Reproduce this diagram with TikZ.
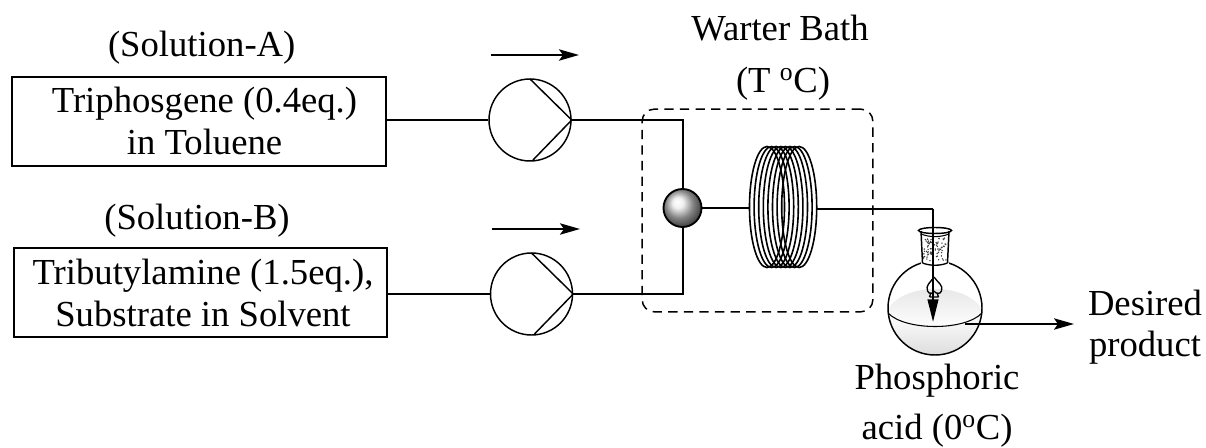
\documentclass[tikz,border=0pt]{standalone}
\usepackage{fontspec}
\setmainfont{Liberation Serif}
\usetikzlibrary{arrows.meta,calc,shapes.geometric}
\pgfdeclareradialshading{mixball}{\pgfpoint{-7bp}{8bp}}{color(0bp)=(white); color(7bp)=(black!6); color(18bp)=(black!48); color(28bp)=(black!74); color(42bp)=(black); color(50bp)=(black)}
\tikzset{
  line/.style={line width=1.5pt,black},
  tip/.style={line width=1.5pt,-{Stealth[length=15pt,width=8.5pt,inset=3pt]}},
  feedbox/.style={draw,line width=1.1pt,inner sep=0pt},
  lab/.style={inner sep=0pt,align=center,anchor=base,font=\fontsize{27.5pt}{31.5pt}\selectfont},
  pumpc/.style={circle,draw,line width=1.1pt,minimum size=61.5pt,inner sep=0pt},
  loop/.style={line width=1.2pt},
}
\begin{document}
\begin{tikzpicture}[x=0.75pt,y=-0.75pt]
\useasboundingbox (0,0) rectangle (1206,448);
% boxes
\node[feedbox,minimum width=280.5pt,minimum height=66.75pt] (boxa) at (199,121.5) {};
\node[feedbox,minimum width=279.75pt,minimum height=66.75pt] (boxb) at (200.5,292.5) {};
\node[lab] (ta) at (204.5,155) {Triphosgene (0.4eq.)\\in Toluene};
\node[lab] (tb) at (203,327) {Tributylamine (1.5eq.),\\Substrate in Solvent};
\node[lab] (sa) at (201.7,57) {(Solution-A)};
\node[lab] (sb) at (197,230) {(Solution-B)};
% pumps
\node[pumpc] (p1) at (530,120) {};
\node[pumpc] (p2) at (531.5,294) {};
\draw[line width=1.1pt] (p1.east) -- ($(p1.center)+(0,-41)$) (p1.east) -- ($(p1.center)+(3,40)$);
\draw[line width=1.1pt] (p2.east) -- ($(p2.center)+(0,-41)$) (p2.east) -- ($(p2.center)+(3,40)$);
% flow arrows
\coordinate (f1s) at (491,55); \coordinate (f1e) at (579,55);
\coordinate (f2s) at (492,229); \coordinate (f2e) at (580,229);
\draw[tip] (f1s) -- (f1e);
\draw[tip] (f2s) -- (f2e);
% bath
\node[lab] (wb) at (780,41) {Warter Bath};
\node[lab] (tc) at (783,93) {(T \textsuperscript{o}C)};
\node[draw,line width=1.1pt,dash pattern=on 7pt off 4.7pt,rounded corners=9pt,minimum width=173pt,minimum height=152pt,inner sep=0pt] (bath) at (757.5,210.5) {};
% mixer
\node[circle,draw,line width=1.4pt,minimum size=28.5pt,inner sep=0pt,shade,shading=mixball] (mix) at (682.5,208) {};
\draw[line] (boxa.east |- p1.west) -- (p1.west);
\draw[line] (boxb.east |- p2.west) -- (p2.west);
\draw[line] (p1.east) -| (mix.north);
\draw[line] (p2.east) -| (mix.south);
% coil
\foreach \c in {767,771.6,776.2,780.8,785.4,790,794.6,799.2}{
  \draw[loop] (\c,207) ellipse (17.5 and 60.5);
}
\coordinate (coilin) at (749,208);
\coordinate (coilout) at (817,209);
\draw[line] (mix.east) -- (coilin |- mix.east);
% flask liquid
\begin{scope}
\clip (935,308) circle (47);
\shade[top color=black!11,bottom color=white] (885,316) .. controls (895,280) and (975,280) .. (985,316) -- (985,330) -- (885,330) -- cycle;
\shade[top color=white,bottom color=black!15] (880,313) .. controls (900,331) and (970,331) .. (990,313) -- (990,360) -- (880,360) -- cycle;
\end{scope}
\node[circle,draw,line width=1.1pt,minimum size=70.5pt,inner sep=0pt] (flask) at (935,308) {};
\draw[line width=0.8pt] (888,313) .. controls (905,331) and (965,331) .. (982,313);
% neck
\fill[white] (921,230) rectangle (949,264);
\pgfmathsetseed{11}
\foreach \i in {1,...,75}{
  \pgfmathsetmacro{\dx}{923.5+rnd*23}
  \pgfmathsetmacro{\dy}{238+rnd*23}
  \fill[black!75] (\dx,\dy) circle (0.8);
}
\draw[line width=1.1pt] (921,231) -- (922.5,263) (949,231) -- (947.5,263);
\draw[line width=1pt] (922.5,263) .. controls (930,266) and (940,266) .. (947.5,263);
\draw[line width=1.1pt] (935,230.5) ellipse (16.5 and 3);
\draw[line width=0.8pt] (921,234) .. controls (930,237.5) and (940,237.5) .. (949,234);
% spade
\draw[line width=1pt] (934,277) .. controls (930,283) and (925.5,285) .. (927.5,291) .. controls (929,294.5) and (933,294) .. (934,291)
  (934,277) .. controls (938,283) and (943.5,285) .. (941.5,291) .. controls (940,294.5) and (936,294) .. (934,291)
  (929.5,297) -- (938.5,297) (931,292.5) -- (929.5,297) (937,292.5) -- (938.5,297);
% outlet
\coordinate (c3) at (933,209);
\coordinate (tipf) at (933,322);
\draw[line] (coilout) -- (c3);
\draw[line width=1.5pt,-{Stealth[length=17pt,width=8pt,inset=0pt]}] (c3) -- (tipf);
\coordinate (outs) at (965,324);
\coordinate (oute) at (1074,324);
\draw[tip] (outs) -- (oute);
\node[lab,font=\fontsize{27.5pt}{30.75pt}\selectfont] (prod) at (1145,357) {Desired\\product};
\node[lab,font=\fontsize{27.5pt}{37.5pt}\selectfont] (acid) at (937,440) {Phosphoric\\acid (0\textsuperscript{o}C)};
\end{tikzpicture}
\end{document}
